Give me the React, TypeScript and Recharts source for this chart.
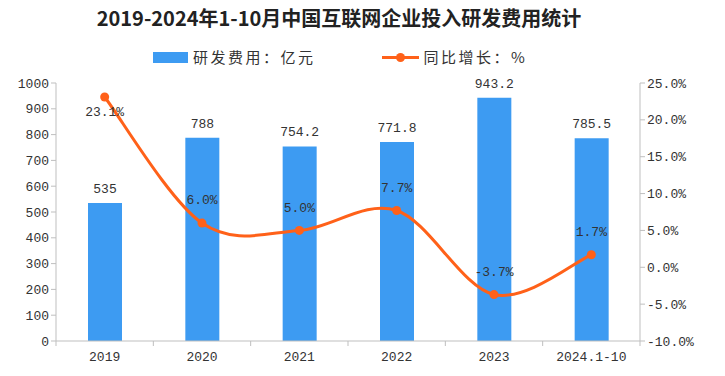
import { ComposedChart, Bar, Line, XAxis, YAxis, LabelList } from 'recharts'

const categories = ['2019', '2020', '2021', '2022', '2023', '2024.1-10']
const rdCost = [535, 788, 754.2, 771.8, 943.2, 785.5]
const growth = [23.1, 6.0, 5.0, 7.7, -3.7, 1.7]
const leftTicks = [0, 100, 200, 300, 400, 500, 600, 700, 800, 900, 1000]
const rightTicks = [-10, -5, 0, 5, 10, 15, 20, 25]

const data = categories.map((name, i) => ({ name, cost: rdCost[i], growth: growth[i] }))

const W = 725
const H = 376
const MARGIN = { top: 83, right: 25, bottom: 5, left: 0 }
const LEFT_W = 56
const RIGHT_W = 60
const BAND = (W - MARGIN.left - MARGIN.right - LEFT_W - RIGHT_W) / categories.length

const BLUE = '#3D9BF2'
const ORANGE = '#FF6119'
const NUM_FONT = '"Liberation Mono", "DejaVu Sans Mono", monospace'
const CJK_FONT = '"Noto Sans CJK SC", "Noto Sans", sans-serif'

// smooth curve like the office "smoothed line" (catmull-rom)
const smooth = (context: any) => {
  let pts: number[][] = []
  return {
    areaStart() {},
    areaEnd() {},
    lineStart() {
      pts = []
    },
    point(x: number, y: number) {
      pts.push([+x, +y])
    },
    lineEnd() {
      if (!pts.length) return
      context.moveTo(pts[0][0], pts[0][1])
      for (let i = 0; i < pts.length - 1; i++) {
        const p0 = pts[i - 1] || pts[i]
        const p1 = pts[i]
        const p2 = pts[i + 1]
        const p3 = pts[i + 2] || p2
        context.bezierCurveTo(
          p1[0] + (p2[0] - p0[0]) / 6,
          p1[1] + (p2[1] - p0[1]) / 6,
          p2[0] - (p3[0] - p1[0]) / 6,
          p2[1] - (p3[1] - p1[1]) / 6,
          p2[0],
          p2[1]
        )
      }
    },
  }
}

const XTick = (props: any) => {
  const { x, y, payload, index } = props
  const axisY = y - 8
  return (
    <g>
      <line x1={x - BAND / 2} x2={x - BAND / 2} y1={axisY} y2={axisY + 5} stroke="#BFBFBF" />
      {index === categories.length - 1 && (
        <line x1={x + BAND / 2} x2={x + BAND / 2} y1={axisY} y2={axisY + 5} stroke="#BFBFBF" />
      )}
      <text x={x} y={axisY + 20} textAnchor="middle" fontSize={13} fontFamily={NUM_FONT} fill="#333">
        {payload.value}
      </text>
    </g>
  )
}

const GrowthLabel = (props: any) => {
  const { x, y, value } = props
  const ly = y - 24 < MARGIN.top ? y + 16 : y - 22
  return (
    <text x={x} y={ly} textAnchor="middle" dominantBaseline="middle" fontSize={13} fontFamily={NUM_FONT} fill="#333">
      {value.toFixed(1)}%
    </text>
  )
}

export default function App() {
  return (
    <div style={{ position: 'absolute', left: 0, top: 0, width: W, height: H, background: '#fff' }}>
      <div
        style={{
          position: 'absolute',
          left: 0,
          width: 678,
          top: 5,
          textAlign: 'center',
          fontFamily: CJK_FONT,
          fontWeight: 'bold',
          fontSize: 20,
          color: '#222',
          lineHeight: '26px',
        }}
      >
        2019-2024年1-10月中国互联网企业投入研发费用统计
      </div>
      <div
        style={{
          position: 'absolute',
          top: 47,
          left: 153,
          display: 'flex',
          alignItems: 'center',
          fontFamily: CJK_FONT,
          fontSize: 15,
          letterSpacing: 2.5,
          color: '#333',
          lineHeight: '20px',
        }}
      >
        <span style={{ display: 'inline-block', width: 35, height: 11, background: BLUE, marginRight: 5 }} />
        <span>研发费用：亿元</span>
        <span style={{ position: 'relative', display: 'inline-block', width: 37, height: 11, marginLeft: 66, marginRight: 5 }}>
          <span style={{ position: 'absolute', left: 0, right: 0, top: 4, height: 3, background: ORANGE }} />
          <span style={{ position: 'absolute', left: 14, top: 1, width: 9, height: 9, borderRadius: 5, background: ORANGE }} />
        </span>
        <span>同比增长：%</span>
      </div>
      <ComposedChart width={W} height={H} data={data} margin={MARGIN}>
        <XAxis
          dataKey="name"
          height={30}
          axisLine={{ stroke: '#BFBFBF' }}
          tickLine={false}
          tick={<XTick />}
          interval={0}
        />
        <YAxis
          yAxisId="left"
          width={LEFT_W}
          domain={[0, 1000]}
          ticks={leftTicks}
          interval={0}
          axisLine={{ stroke: '#BFBFBF' }}
          tickLine={{ stroke: '#BFBFBF' }}
          tickSize={5}
          tick={{ fontSize: 13, fontFamily: NUM_FONT, fill: '#333' }}
        />
        <YAxis
          yAxisId="right"
          orientation="right"
          width={RIGHT_W}
          domain={[-10, 25]}
          ticks={rightTicks}
          interval={0}
          axisLine={{ stroke: '#BFBFBF' }}
          tickLine={{ stroke: '#BFBFBF' }}
          tickSize={5}
          tickFormatter={(v: number) => `${v.toFixed(1)}%`}
          tick={{ fontSize: 13, fontFamily: NUM_FONT, fill: '#333' }}
        />
        <Bar yAxisId="left" dataKey="cost" fill={BLUE} barSize={34} isAnimationActive={false}>
          <LabelList dataKey="cost" position="top" offset={10} fontSize={13} fontFamily={NUM_FONT} fill="#333" />
        </Bar>
        <Line
          yAxisId="right"
          dataKey="growth"
          type={smooth as any}
          stroke={ORANGE}
          strokeWidth={3}
          dot={{ r: 4.5, fill: ORANGE, stroke: ORANGE, strokeWidth: 0 }}
          isAnimationActive={false}
        >
          <LabelList dataKey="growth" content={<GrowthLabel />} />
        </Line>
      </ComposedChart>
    </div>
  )
}
